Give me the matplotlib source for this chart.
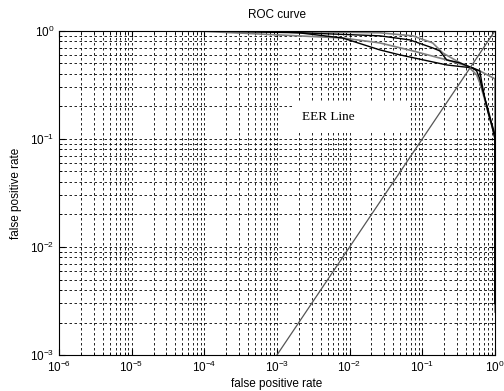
import numpy as np
import matplotlib
matplotlib.use("Agg")
import matplotlib.pyplot as plt

# ROC curves (false positive rate vs rate)
curve_a_x = [9e-6, 1e-4, 1e-3, 0.026, 0.074, 0.139, 0.191, 0.298, 0.45, 0.56, 0.62, 0.70, 0.80, 0.90, 1.0, 1.0]
curve_a_y = [1.0, 1.0, 0.99, 0.96, 0.90, 0.774, 0.626, 0.527, 0.454, 0.392, 0.33, 0.25, 0.18, 0.135, 0.105, 0.0025]

curve_b_x = [9e-6, 1e-4, 1e-3, 0.026, 0.067, 0.139, 0.174, 0.217, 0.328, 0.495, 0.62, 0.66, 0.725, 0.80, 0.90, 1.0, 1.0]
curve_b_y = [1.0, 1.0, 0.98, 0.90, 0.826, 0.696, 0.653, 0.539, 0.506, 0.454, 0.426, 0.33, 0.24, 0.178, 0.135, 0.10, 0.003]

curve_c_x = [9e-6, 1e-4, 8e-3, 0.026, 0.074, 0.217, 0.41, 0.62, 1.0, 1.0]
curve_c_y = [1.0, 0.99, 0.86, 0.774, 0.653, 0.539, 0.474, 0.426, 0.36, 0.003]

curve_d_x = [9e-6, 1e-4, 2e-3, 8e-3, 0.026, 0.049, 0.217, 0.495, 0.56, 0.62, 0.70, 0.80, 0.90, 1.0, 1.0]
curve_d_y = [1.0, 1.0, 0.96, 0.86, 0.667, 0.60, 0.484, 0.454, 0.426, 0.36, 0.26, 0.19, 0.14, 0.11, 0.003]

eer_x = [1e-3, 1.0]
eer_y = [1e-3, 1.0]

plt.rcParams['font.family'] = ['Liberation Sans', 'DejaVu Sans']

fig = plt.figure(figsize=(5.04, 3.91), dpi=100)
ax = fig.add_axes([0.117, 0.092, 0.865, 0.829])

ax.set_xscale('log')
ax.set_yscale('log')
ax.set_xlim(1e-6, 1)
ax.set_ylim(1e-3, 1)

# matlab style grid
ax.grid(True, which='both', color='black', linestyle=(0, (3, 3)), linewidth=0.6)
ax.set_axisbelow(True)

ax.plot(curve_c_x, curve_c_y, color='#808080', linewidth=1.2)
ax.plot(curve_a_x, curve_a_y, color='#808080', linewidth=1.2)
ax.plot(curve_d_x, curve_d_y, color='black', linewidth=1.0)
ax.plot(curve_b_x, curve_b_y, color='black', linewidth=1.0)
ax.plot(eer_x, eer_y, color='#555555', linewidth=0.9)

# white label box, wider than the text like the original
ax.text(2.2e-3, 0.16, 'EER Line              ', family='Liberation Serif', fontsize=9.5,
        va='center', ha='left',
        bbox=dict(facecolor='white', edgecolor='none', boxstyle='square,pad=0.6'))

ax.tick_params(which='both', direction='in', labelsize=8.5, top=True, right=True)
ax.tick_params(which='major', length=4)
ax.tick_params(which='minor', length=2)

ax.set_title('ROC curve', fontsize=8.5, pad=9)
ax.set_xlabel('false positive rate', fontsize=8.5, labelpad=2)
ax.set_ylabel('false positive rate', fontsize=8.5, labelpad=6)

fig.savefig('out.png', dpi=100)
